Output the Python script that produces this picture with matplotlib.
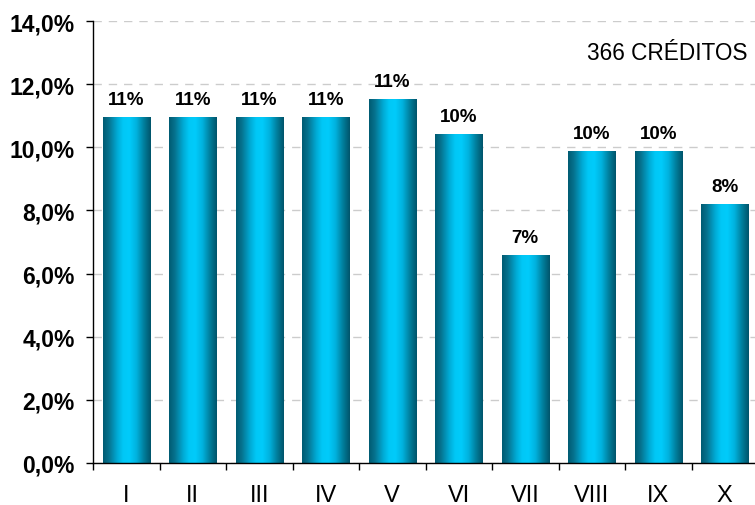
import numpy as np
import matplotlib
matplotlib.use("Agg")
import matplotlib.pyplot as plt
from matplotlib.colors import LinearSegmentedColormap
from matplotlib.ticker import FixedLocator

categories = ["I", "II", "III", "IV", "V", "VI", "VII", "VIII", "IX", "X"]
values = [10.93, 10.93, 10.93, 10.93, 11.5, 10.42, 6.56, 9.88, 9.88, 8.2]
labels = ["11%", "11%", "11%", "11%", "11%", "10%", "7%", "10%", "10%", "8%"]
yticks = [0, 2, 4, 6, 8, 10, 12, 14]
ytick_labels = ["0,0%", "2,0%", "4,0%", "6,0%", "8,0%", "10,0%", "12,0%", "14,0%"]
note = "366 CRÉDITOS"

plt.rcParams['font.family'] = ['Liberation Sans', 'DejaVu Sans']

W, H = 755, 506
fig = plt.figure(figsize=(W / 100, H / 100), dpi=100)
left, right, top, bottom = 93, 758, 22, 464
ax = fig.add_axes([left / W, 1 - bottom / H, (right - left) / W, (bottom - top) / H])

cmap = LinearSegmentedColormap.from_list("cyl", [
    (0.0, "#005b72"), (0.12, "#06728e"), (0.3, "#00abd6"), (0.42, "#00c8f6"),
    (0.55, "#00cbfb"), (0.7, "#00b2de"), (0.86, "#007d9a"), (1.0, "#00546a")])
grad = np.linspace(0, 1, 256).reshape(1, -1)

bw = 0.71
x = np.arange(len(categories))
for xi, v, lab in zip(x, values, labels):
    ax.imshow(grad, cmap=cmap, aspect="auto", extent=(xi - bw / 2, xi + bw / 2, 0, v),
              zorder=2, interpolation="bilinear")
    ax.text(xi, v + 0.3, lab, ha="center", va="bottom", fontsize=13.5,
            fontweight="bold", zorder=3)

ax.set_xlim(-0.5, len(categories) - 0.5)
ax.set_ylim(0, 14)

ax.set_yticks(yticks)
ax.set_yticklabels(ytick_labels, fontsize=16.5, fontweight="bold")
ax.set_xticks(x)
ax.set_xticklabels(categories, fontsize=17)
ax.xaxis.set_minor_locator(FixedLocator(np.arange(-0.5, len(categories), 1.0)))
ax.tick_params(axis="x", which="major", length=0, pad=15)
ax.tick_params(axis="x", which="minor", length=5, direction="out", width=1)
ax.tick_params(axis="y", length=5, direction="out", width=1, pad=8)

ax.yaxis.grid(True, color="#cccccc", linestyle=(0, (6, 5)), linewidth=1)
ax.set_axisbelow(True)
for s in ["top", "right"]:
    ax.spines[s].set_visible(False)
for s in ["left", "bottom"]:
    ax.spines[s].set_color("black")
    ax.spines[s].set_linewidth(1)

fig.text(587 / W, 1 - 54 / H, note, fontsize=16.3, ha="left", va="center")

fig.savefig("out.png", dpi=100)
